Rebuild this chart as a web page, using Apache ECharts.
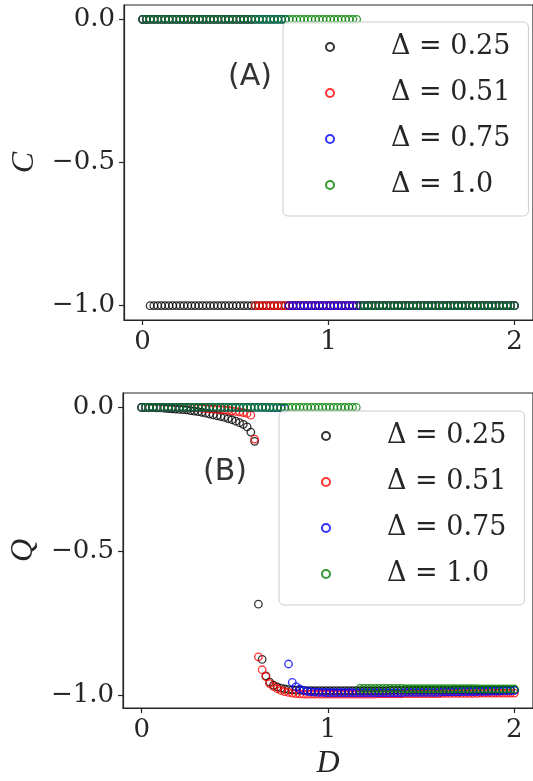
<!DOCTYPE html>
<html>
<head>
<meta charset="utf-8">
<script src="https://cdn.jsdelivr.net/npm/echarts@6/dist/echarts.min.js"></script>
<style>
  html, body { margin: 0; padding: 0; background: #fff; }
  #chart { width: 533px; height: 781px; }
</style>
</head>
<body>
<div id="chart"></div>
<script>
// D grid (x values shared by all series)
const D = [
  0, 0.0202, 0.0404, 0.0606, 0.0808, 0.1010, 0.1212, 0.1414, 0.1616, 0.1818,
  0.2020, 0.2222, 0.2424, 0.2626, 0.2828, 0.3030, 0.3232, 0.3434, 0.3636, 0.3838,
  0.4040, 0.4242, 0.4444, 0.4646, 0.4848, 0.5051, 0.5253, 0.5455, 0.5657, 0.5859,
  0.6061, 0.6263, 0.6465, 0.6667, 0.6869, 0.7071, 0.7273, 0.7475, 0.7677, 0.7879,
  0.8081, 0.8283, 0.8485, 0.8687, 0.8889, 0.9091, 0.9293, 0.9495, 0.9697, 0.9899,
  1.0101, 1.0303, 1.0505, 1.0707, 1.0909, 1.1111, 1.1313, 1.1515, 1.1717, 1.1919,
  1.2121, 1.2323, 1.2525, 1.2727, 1.2929, 1.3131, 1.3333, 1.3535, 1.3737, 1.3939,
  1.4141, 1.4343, 1.4545, 1.4747, 1.4949, 1.5152, 1.5354, 1.5556, 1.5758, 1.5960,
  1.6162, 1.6364, 1.6566, 1.6768, 1.6970, 1.7172, 1.7374, 1.7576, 1.7778, 1.7980,
  1.8182, 1.8384, 1.8586, 1.8788, 1.8990, 1.9192, 1.9394, 1.9596, 1.9798, 2.0
]

const names = ['Δ = 0.25', 'Δ = 0.51', 'Δ = 0.75', 'Δ = 1.0']
const colors = ['#000000', '#ff0000', '#0000ff', '#008000']

// panel (A): C
const C025 = [
  0, 0, -1, -1, -1, -1, -1, -1, -1, -1,
  -1, -1, -1, -1, -1, -1, -1, -1, -1, -1,
  -1, -1, -1, -1, -1, -1, -1, -1, -1, -1,
  -1, -1, -1, -1, -1, -1, -1, -1, -1, -1,
  -1, -1, -1, -1, -1, -1, -1, -1, -1, -1,
  -1, -1, -1, -1, -1, -1, -1, -1, -1, -1,
  -1, -1, -1, -1, -1, -1, -1, -1, -1, -1,
  -1, -1, -1, -1, -1, -1, -1, -1, -1, -1,
  -1, -1, -1, -1, -1, -1, -1, -1, -1, -1,
  -1, -1, -1, -1, -1, -1, -1, -1, -1, -1
]
const C051 = [
  0, 0, 0, 0, 0, 0, 0, 0, 0, 0,
  0, 0, 0, 0, 0, 0, 0, 0, 0, 0,
  0, 0, 0, 0, 0, 0, 0, 0, 0, 0,
  -1, -1, -1, -1, -1, -1, -1, -1, -1, -1,
  -1, -1, -1, -1, -1, -1, -1, -1, -1, -1,
  -1, -1, -1, -1, -1, -1, -1, -1, -1, -1,
  -1, -1, -1, -1, -1, -1, -1, -1, -1, -1,
  -1, -1, -1, -1, -1, -1, -1, -1, -1, -1,
  -1, -1, -1, -1, -1, -1, -1, -1, -1, -1,
  -1, -1, -1, -1, -1, -1, -1, -1, -1, -1
]
const C075 = [
  0, 0, 0, 0, 0, 0, 0, 0, 0, 0,
  0, 0, 0, 0, 0, 0, 0, 0, 0, 0,
  0, 0, 0, 0, 0, 0, 0, 0, 0, 0,
  0, 0, 0, 0, 0, 0, 0, 0, 0, -1,
  -1, -1, -1, -1, -1, -1, -1, -1, -1, -1,
  -1, -1, -1, -1, -1, -1, -1, -1, -1, -1,
  -1, -1, -1, -1, -1, -1, -1, -1, -1, -1,
  -1, -1, -1, -1, -1, -1, -1, -1, -1, -1,
  -1, -1, -1, -1, -1, -1, -1, -1, -1, -1,
  -1, -1, -1, -1, -1, -1, -1, -1, -1, -1
]
const C100 = [
  0, 0, 0, 0, 0, 0, 0, 0, 0, 0,
  0, 0, 0, 0, 0, 0, 0, 0, 0, 0,
  0, 0, 0, 0, 0, 0, 0, 0, 0, 0,
  0, 0, 0, 0, 0, 0, 0, 0, 0, 0,
  0, 0, 0, 0, 0, 0, 0, 0, 0, 0,
  0, 0, 0, 0, 0, 0, 0, 0, -1, -1,
  -1, -1, -1, -1, -1, -1, -1, -1, -1, -1,
  -1, -1, -1, -1, -1, -1, -1, -1, -1, -1,
  -1, -1, -1, -1, -1, -1, -1, -1, -1, -1,
  -1, -1, -1, -1, -1, -1, -1, -1, -1, -1
]

// panel (B): Q
const Q025 = [
  0, 0, -0.0005, -0.001, -0.0015, -0.002, -0.003, -0.004, -0.005, -0.006,
  -0.007, -0.008, -0.009, -0.011, -0.013, -0.015, -0.017, -0.020, -0.023, -0.026,
  -0.029, -0.032, -0.035, -0.039, -0.043, -0.048, -0.053, -0.059, -0.068, -0.086,
  -0.118, -0.684, -0.876, -0.933, -0.955, -0.966, -0.972, -0.976, -0.979, -0.981,
  -0.982, -0.983, -0.984, -0.984, -0.985, -0.985, -0.985, -0.985, -0.985, -0.985,
  -0.985, -0.985, -0.985, -0.985, -0.985, -0.985, -0.985, -0.985, -0.985, -0.985,
  -0.985, -0.985, -0.985, -0.985, -0.985, -0.985, -0.984, -0.984, -0.984, -0.984,
  -0.984, -0.984, -0.984, -0.984, -0.984, -0.984, -0.984, -0.984, -0.984, -0.984,
  -0.984, -0.984, -0.984, -0.983, -0.983, -0.983, -0.983, -0.983, -0.983, -0.983,
  -0.983, -0.983, -0.983, -0.983, -0.983, -0.983, -0.983, -0.983, -0.983, -0.983
]
const Q051 = [
  0, 0, 0, 0, 0, 0, 0, 0, 0, 0,
  0, 0, -0.001, -0.001, -0.002, -0.002, -0.003, -0.004, -0.005, -0.006,
  -0.007, -0.008, -0.009, -0.010, -0.012, -0.014, -0.016, -0.018, -0.021, -0.027,
  -0.110, -0.867, -0.912, -0.936, -0.960, -0.970, -0.978, -0.984, -0.988, -0.991,
  -0.993, -0.995, -0.996, -0.997, -0.997, -0.997, -0.997, -0.997, -0.997, -0.997,
  -0.997, -0.997, -0.997, -0.997, -0.997, -0.997, -0.997, -0.997, -0.997, -0.997,
  -0.997, -0.997, -0.997, -0.996, -0.996, -0.996, -0.996, -0.996, -0.996, -0.996,
  -0.995, -0.995, -0.995, -0.995, -0.995, -0.995, -0.995, -0.995, -0.995, -0.995,
  -0.994, -0.994, -0.994, -0.994, -0.994, -0.994, -0.994, -0.994, -0.994, -0.994,
  -0.993, -0.993, -0.993, -0.993, -0.993, -0.993, -0.993, -0.993, -0.993, -0.993
]
const Q075 = [
  0, 0, 0, 0, 0, 0, 0, 0, 0, 0,
  0, 0, 0, 0, 0, 0, 0, 0, 0, 0,
  0, 0, 0, 0, 0, 0, 0, 0, 0, 0,
  0, 0, 0, 0, -0.001, -0.001, -0.001, -0.002, -0.003, -0.892,
  -0.956, -0.971, -0.979, -0.984, -0.987, -0.989, -0.990, -0.991, -0.991, -0.992,
  -0.992, -0.992, -0.992, -0.992, -0.992, -0.992, -0.992, -0.992, -0.992, -0.992,
  -0.992, -0.992, -0.992, -0.992, -0.992, -0.992, -0.992, -0.992, -0.992, -0.992,
  -0.991, -0.991, -0.991, -0.991, -0.991, -0.991, -0.991, -0.991, -0.991, -0.991,
  -0.989, -0.989, -0.989, -0.989, -0.989, -0.988, -0.988, -0.988, -0.988, -0.988,
  -0.987, -0.987, -0.987, -0.986, -0.986, -0.986, -0.985, -0.985, -0.985, -0.984
]
const Q100 = [
  0, 0, 0, 0, 0, 0, 0, 0, 0, 0,
  0, 0, 0, 0, 0, 0, 0, 0, 0, 0,
  0, 0, 0, 0, 0, 0, 0, 0, 0, 0,
  0, 0, 0, 0, 0, 0, 0, 0, 0, 0,
  0, 0, 0, 0, 0, 0, 0, 0, 0, 0,
  0, 0, 0, 0, 0, 0, 0, 0, -0.977, -0.977,
  -0.977, -0.977, -0.977, -0.977, -0.977, -0.977, -0.977, -0.977, -0.977, -0.977,
  -0.978, -0.978, -0.978, -0.978, -0.978, -0.978, -0.978, -0.978, -0.978, -0.978,
  -0.978, -0.978, -0.978, -0.978, -0.978, -0.978, -0.978, -0.978, -0.978, -0.978,
  -0.979, -0.979, -0.979, -0.979, -0.979, -0.979, -0.979, -0.979, -0.979, -0.979
]

const xTicks = [0, 1, 2]
const yTicks = [-1, -0.5, 0]

const axisColor = '#262626'
const serif = 'DejaVu Serif'

function pairs (ys) {
  return D.map((d, i) => [d, ys[i]])
}

function yLabel (v) {
  return v === 0 ? '0.0' : '\u2212' + Math.abs(v).toFixed(1)
}

function xAxisFor (idx, withName) {
  return {
    gridIndex: idx,
    type: 'value',
    min: -0.1,
    max: 2.1,
    name: withName ? 'D' : '',
    nameLocation: 'middle',
    nameGap: 40,
    nameTextStyle: { fontFamily: 'Liberation Serif', fontStyle: 'italic', fontSize: 32, color: axisColor },
    axisLine: { show: true, onZero: false, lineStyle: { color: axisColor, width: 1.2 } },
    axisTick: { show: true, inside: false, length: 5, customValues: xTicks, lineStyle: { color: axisColor, width: 1.2 } },
    axisLabel: { customValues: xTicks, margin: 9, fontFamily: serif, fontSize: 26, color: axisColor },
    splitLine: { show: false }
  }
}

function yAxisFor (idx, name) {
  return {
    gridIndex: idx,
    type: 'value',
    min: idx === 0 ? -1.05 : -1.045,
    max: 0.05,
    name: name,
    nameLocation: 'middle',
    nameGap: 78,
    nameRotate: 90,
    nameTextStyle: { fontFamily: 'Liberation Serif', fontStyle: 'italic', fontSize: 32, color: axisColor },
    axisLine: { show: true, onZero: false, lineStyle: { color: axisColor, width: 1.2 } },
    axisTick: { show: true, inside: false, length: 5, customValues: yTicks, lineStyle: { color: axisColor, width: 1.2 } },
    axisLabel: { customValues: yTicks, margin: 9, fontFamily: serif, fontSize: 26, color: axisColor, formatter: yLabel },
    splitLine: { show: false }
  }
}

function legendFor (top, left) {
  return {
    data: names,
    orient: 'vertical',
    left: left,
    top: top,
    selectedMode: false,
    itemWidth: 8,
    itemHeight: 8,
    itemGap: 16,
    padding: [10, 18, 16, 42],
    backgroundColor: 'rgba(255,255,255,0.8)',
    borderColor: '#cccccc',
    borderWidth: 1,
    borderRadius: 5,
    textStyle: { fontFamily: serif, fontSize: 27, lineHeight: 30, color: axisColor, padding: [0, 0, 0, 52] }
  }
}

function scatter (name, color, idx, ys) {
  return {
    name: name,
    type: 'scatter',
    xAxisIndex: idx,
    yAxisIndex: idx,
    symbol: 'circle',
    symbolSize: 7.5,
    itemStyle: { color: 'rgba(0,0,0,0)', borderColor: color, borderWidth: 1.3 },
    data: pairs(ys)
  }
}

const chart = echarts.init(document.getElementById('chart'), null, { renderer: 'canvas' })

chart.setOption({
  animation: false,
  backgroundColor: '#ffffff',
  grid: [
    { left: 124, top: 5, width: 418, height: 315, show: true, borderColor: axisColor, borderWidth: 1.2 },
    { left: 120, top: 393, width: 419, height: 315, show: true, borderColor: axisColor, borderWidth: 1.2 }
  ],
  xAxis: [xAxisFor(0, false), xAxisFor(1, true)],
  yAxis: [yAxisFor(0, 'C'), yAxisFor(1, 'Q')],
  legend: [legendFor(22, 283), legendFor(411, 279)],
  graphic: [
    { type: 'text', left: 228, top: 62, style: { text: '(A)', fontFamily: 'DejaVu Sans', fontSize: 30, fill: '#333333' } },
    { type: 'text', left: 203, top: 457, style: { text: '(B)', fontFamily: 'DejaVu Sans', fontSize: 30, fill: '#333333' } }
  ],
  series: [
    scatter(names[0], colors[0], 0, C025),
    scatter(names[1], colors[1], 0, C051),
    scatter(names[2], colors[2], 0, C075),
    scatter(names[3], colors[3], 0, C100),
    scatter(names[0], colors[0], 1, Q025),
    scatter(names[1], colors[1], 1, Q051),
    scatter(names[2], colors[2], 1, Q075),
    scatter(names[3], colors[3], 1, Q100)
  ]
})
</script>
</body>
</html>
